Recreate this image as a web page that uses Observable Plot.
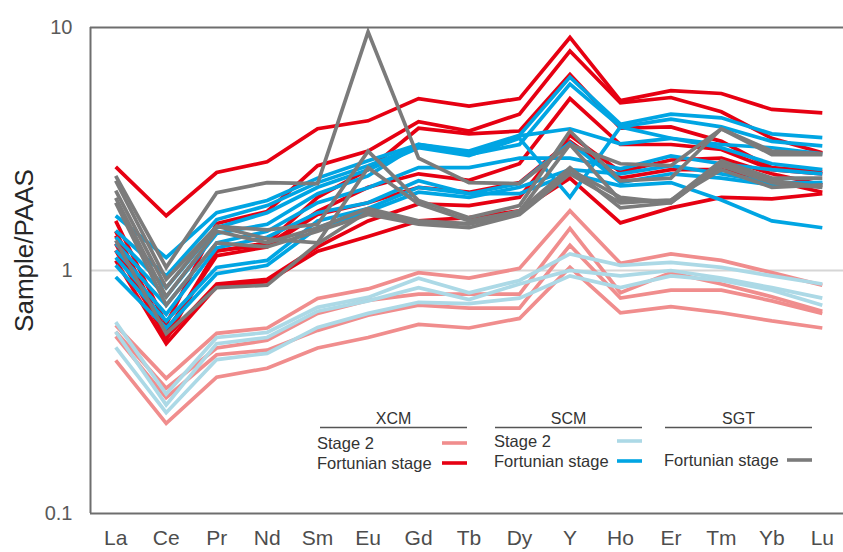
<!DOCTYPE html>
<html>
<head>
<meta charset="utf-8">
<script src="https://cdn.jsdelivr.net/npm/d3@7"></script>
<script src="https://cdn.jsdelivr.net/npm/@observablehq/plot@0.6"></script>
<style>
  html, body { margin: 0; padding: 0; background: #fff; }
  #wrap { position: relative; width: 843px; height: 552px; }
  #legend { position: absolute; left: 0; top: 0; pointer-events: none; }
</style>
</head>
<body>
<div id="wrap"></div>
<script>
// REE elements (x categories)
const elements = ["La","Ce","Pr","Nd","Sm","Eu","Gd","Tb","Dy","Y","Ho","Er","Tm","Yb","Lu"];
const yTicks = [0.1, 1, 10];
const yTickLabels = ["0.1", "1", "10"];

// XCM – Stage 2 (pink)
const xcmStage2 = [
  [0.595,0.36,0.551,0.58,0.767,0.84,0.98,0.93,1.02,1.76,1.07,1.17,1.10,0.98,0.87],
  [0.56,0.328,0.48,0.516,0.666,0.753,0.80,0.80,0.80,1.49,0.81,0.98,0.88,0.78,0.68],
  [0.536,0.30,0.45,0.47,0.567,0.655,0.72,0.70,0.70,1.27,0.77,0.83,0.83,0.75,0.665],
  [0.427,0.235,0.364,0.396,0.48,0.53,0.60,0.58,0.635,1.03,0.67,0.71,0.67,0.62,0.58]
];
// XCM – Fortunian stage (red)
const xcmFortunian = [
  [2.67,1.68,2.53,2.8,3.83,4.13,5.1,4.75,5.1,9.1,5.0,5.5,5.35,4.6,4.45],
  [1.6,0.6,1.56,1.75,2.7,3.1,4.1,3.75,4.4,8.0,4.9,5.15,4.5,3.5,3.05],
  [1.45,0.55,1.2,1.3,2.0,2.6,3.85,3.65,3.75,6.4,3.85,3.9,3.4,2.65,2.55],
  [1.29,0.52,1.21,1.27,1.75,2.2,2.5,2.35,2.75,5.1,3.3,3.3,3.15,2.6,2.5],
  [1.39,0.56,1.15,1.25,1.7,1.9,2.2,2.1,2.3,3.4,2.4,2.6,2.6,2.35,2.1],
  [1.21,0.53,0.88,0.92,1.25,1.6,1.88,1.85,2.0,3.6,2.55,2.85,2.9,2.5,2.25],
  [1.1,0.5,0.86,0.9,1.2,1.38,1.6,1.65,1.76,2.4,1.57,1.81,2.0,1.97,2.07]
];
// SCM – Stage 2 (light blue)
const scmStage2 = [
  [0.613,0.31,0.53,0.556,0.705,0.775,0.93,0.81,0.91,1.17,1.05,1.08,1.03,0.95,0.88],
  [0.56,0.28,0.50,0.53,0.68,0.75,0.85,0.76,0.88,1.0,0.95,1.0,0.93,0.85,0.77],
  [0.483,0.26,0.43,0.456,0.583,0.666,0.74,0.73,0.77,0.95,0.85,0.95,0.91,0.83,0.72]
];
// SCM – Fortunian stage (blue)
const scmFortunian = [
  [1.68,1.13,1.73,1.94,2.4,2.83,3.3,3.1,3.6,6.25,4.0,4.4,4.25,3.65,3.52],
  [1.46,0.95,1.62,1.85,2.3,2.7,3.25,3.0,3.3,5.85,3.9,4.2,3.9,3.4,3.26],
  [1.37,0.85,1.5,1.73,2.2,2.6,3.2,2.97,3.5,2.0,3.9,3.5,3.3,3.2,3.02],
  [1.29,0.78,1.42,1.55,2.07,2.45,3.3,3.05,3.58,3.83,3.32,3.5,3.2,2.75,2.6],
  [1.21,0.72,1.3,1.45,1.9,2.19,2.65,2.65,2.9,2.9,2.62,2.96,2.75,2.6,2.5],
  [1.13,0.66,1.24,1.37,1.73,1.9,2.34,2.07,2.28,3.36,2.3,2.5,2.4,2.25,2.3],
  [1.05,0.62,1.03,1.1,1.6,1.8,2.2,2.07,2.07,2.5,2.23,2.3,1.95,1.6,1.5],
  [0.94,0.58,0.97,1.05,1.5,1.75,2.1,2.0,2.2,2.6,2.5,2.7,2.5,2.3,2.3]
];
// SGT – Fortunian stage (grey)
const sgtFortunian = [
  [2.45,1.03,2.09,2.3,2.28,9.6,2.9,2.3,2.28,3.3,2.75,2.7,3.83,3.1,3.02],
  [2.34,0.92,1.52,1.47,1.55,3.1,1.94,1.65,1.85,3.75,2.34,2.4,3.83,3.0,3.0],
  [2.13,0.85,1.52,1.35,1.3,2.65,1.88,1.6,1.75,3.3,1.94,1.94,2.83,2.4,2.4],
  [1.99,0.78,1.45,1.3,1.5,1.8,1.6,1.56,1.76,2.65,1.81,1.9,2.7,2.3,2.2],
  [1.9,0.72,1.3,1.25,1.45,1.7,1.55,1.5,1.7,2.5,1.9,1.95,2.6,2.2,2.25],
  [1.33,0.55,0.85,0.87,1.29,1.75,1.58,1.55,1.72,2.6,2.0,1.9,2.75,2.35,2.2]
];

const colors = {
  xcmStage2: "#f08d8d",
  xcmFortunian: "#e60012",
  scmStage2: "#acd9e6",
  scmFortunian: "#00a5e3",
  sgtFortunian: "#7b7b7b"
};

// drawing order (last on top)
const groups = [
  ["xcmStage2", xcmStage2],
  ["scmStage2", scmStage2],
  ["xcmFortunian", xcmFortunian],
  ["scmFortunian", scmFortunian],
  ["sgtFortunian", sgtFortunian]
];

function tidy(name, series) {
  const out = [];
  series.forEach((s, k) => s.forEach((v, i) => out.push({group: name, id: name + k, i, v})));
  return out;
}

const lineMarks = groups.map(([name, series]) =>
  Plot.line(tidy(name, series), {
    x: "i", y: "v", z: "id",
    stroke: colors[name], strokeWidth: 3.7,
    strokeLinejoin: "miter", strokeLinecap: "butt", strokeMiterlimit: 10
  })
);

const chart = Plot.plot({
  width: 843,
  height: 552,
  marginLeft: 90,
  marginRight: 0,
  marginTop: 27,
  marginBottom: 39,
  style: {fontFamily: "'Liberation Sans', Arial, sans-serif", background: "#fff", overflow: "visible"},
  x: {type: "linear", domain: [-0.5, 14.42]},
  y: {type: "log", domain: [0.1, 10]},
  marks: [
    Plot.ruleY([1], {stroke: "#d6d6d6", strokeWidth: 2}),
    ...lineMarks,
    Plot.ruleY([10, 0.1], {stroke: "#6e6e6e", strokeWidth: 2}),
    Plot.ruleX([-0.5], {stroke: "#6e6e6e", strokeWidth: 2}),
    Plot.axisX({
      ticks: d3.range(elements.length),
      tickFormat: i => elements[i],
      tickSize: 0, tickPadding: 17,
      fontSize: 21, fill: "#4d4d4d", label: null
    }),
    Plot.axisY({
      ticks: yTicks,
      tickFormat: d => yTickLabels[yTicks.indexOf(d)],
      tickSize: 0, tickPadding: 18,
      fontSize: 20, fill: "#595959",
      label: "Sample/PAAS", labelAnchor: "center", labelOffset: 76, labelArrow: "none"
    })
  ]
});

const wrap = document.getElementById("wrap");
wrap.appendChild(chart);
d3.select(chart).selectAll("g[aria-label='y-axis label']")
  .attr("font-size", 26).attr("fill", "#262626");
d3.select(chart).selectAll("g[aria-label='y-axis label'] text")
  .attr("font-size", 26).attr("fill", "#262626").attr("dx", 20);

// Legend (inside the plot area)
const legendGroups = [
  {title: "XCM", x0: 320, x1: 467, items: [["Stage 2", "xcmStage2"], ["Fortunian stage", "xcmFortunian"]], textX: 317, rows: [443, 463]},
  {title: "SCM", x0: 495, x1: 642, items: [["Stage 2", "scmStage2"], ["Fortunian stage", "scmFortunian"]], textX: 494, rows: [441, 461]},
  {title: "SGT", x0: 665, x1: 812, items: [["Fortunian stage", "sgtFortunian"]], textX: 664, rows: [460]}
];
const leg = d3.select(wrap).append("svg")
  .attr("id", "legend").attr("width", 843).attr("height", 552)
  .style("font-family", "'Liberation Sans', Arial, sans-serif");
legendGroups.forEach(g => {
  leg.append("text").attr("x", (g.x0 + g.x1) / 2).attr("y", 418)
    .attr("text-anchor", "middle").attr("dominant-baseline", "central")
    .attr("font-size", 16).attr("fill", "#333").text(g.title);
  leg.append("line").attr("x1", g.x0).attr("x2", g.x1).attr("y1", 427.5).attr("y2", 427.5)
    .attr("stroke", "#555").attr("stroke-width", 1.6);
  g.items.forEach(([label, key], r) => {
    const y = g.rows[r];
    leg.append("text").attr("x", g.textX).attr("y", y)
      .attr("dominant-baseline", "central").attr("font-size", 16.5).attr("fill", "#333").text(label);
    leg.append("line").attr("x1", g.x1 - 25).attr("x2", g.x1).attr("y1", y).attr("y2", y)
      .attr("stroke", colors[key]).attr("stroke-width", 3.6);
  });
});
</script>
</body>
</html>
